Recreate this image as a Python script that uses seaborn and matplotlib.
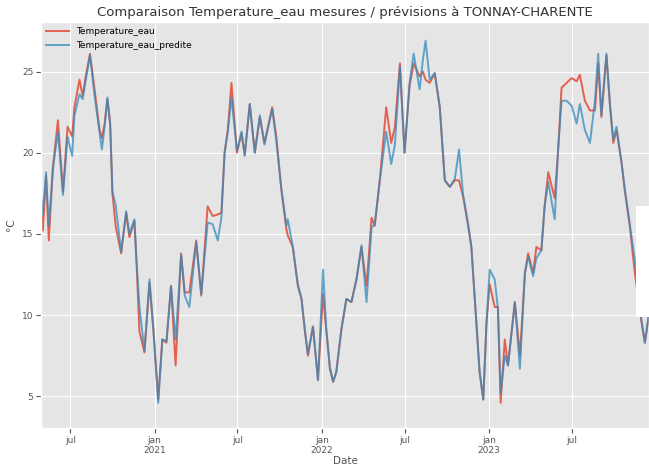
import matplotlib
matplotlib.use("Agg")

import pandas as pd
import seaborn as sns
import matplotlib.pyplot as plt
from matplotlib.patches import Rectangle

# Data (vertices of both curves)
dates = [
    "2020-04-28", "2020-05-02", "2020-05-09", "2020-05-15", "2020-05-24", "2020-06-04",
    "2020-06-15", "2020-06-25", "2020-07-05", "2020-07-10", "2020-07-21", "2020-07-28",
    "2020-08-03", "2020-08-13", "2020-08-23", "2020-09-03", "2020-09-08", "2020-09-14",
    "2020-09-20", "2020-09-26", "2020-10-01", "2020-10-08", "2020-10-20", "2020-10-31",
    "2020-11-07", "2020-11-18", "2020-11-23", "2020-11-29", "2020-12-10", "2020-12-21",
    "2020-12-30", "2021-01-09", "2021-01-18", "2021-01-27", "2021-02-06", "2021-02-16",
    "2021-02-28", "2021-03-08", "2021-03-18", "2021-04-02", "2021-04-13", "2021-04-27",
    "2021-05-08", "2021-05-19", "2021-05-27", "2021-06-03", "2021-06-10", "2021-06-18",
    "2021-06-30", "2021-07-10", "2021-07-17", "2021-07-28", "2021-08-08", "2021-08-19",
    "2021-08-29", "2021-09-15", "2021-09-24", "2021-10-05", "2021-10-16", "2021-10-19",
    "2021-10-30", "2021-11-10", "2021-11-18", "2021-11-25", "2021-12-02", "2021-12-13",
    "2021-12-24", "2022-01-04", "2022-01-11", "2022-01-19", "2022-01-26", "2022-02-02",
    "2022-02-13", "2022-02-24", "2022-03-07", "2022-03-18", "2022-03-29", "2022-04-09",
    "2022-04-20", "2022-04-27", "2022-05-08", "2022-05-22", "2022-06-02", "2022-06-10",
    "2022-06-21", "2022-07-01", "2022-07-12", "2022-07-21", "2022-08-03", "2022-08-10",
    "2022-08-16", "2022-08-25", "2022-09-05", "2022-09-16", "2022-09-27", "2022-10-08",
    "2022-10-19", "2022-10-28", "2022-11-06", "2022-11-17", "2022-11-24", "2022-12-05",
    "2022-12-12", "2022-12-20", "2022-12-27", "2023-01-03", "2023-01-14", "2023-01-21",
    "2023-01-27", "2023-02-05", "2023-02-12", "2023-02-27", "2023-03-10", "2023-03-21",
    "2023-03-28", "2023-04-08", "2023-04-15", "2023-04-26", "2023-05-03", "2023-05-11",
    "2023-05-25", "2023-06-02", "2023-06-09", "2023-06-20", "2023-07-01", "2023-07-12",
    "2023-07-19", "2023-07-30", "2023-08-10", "2023-08-21", "2023-08-28", "2023-09-04",
    "2023-09-15", "2023-09-23", "2023-09-30", "2023-10-07", "2023-10-18", "2023-10-25",
    "2023-11-05", "2023-11-16", "2023-12-01", "2023-12-08", "2023-12-17",
]

temp_mesuree = [
    16.5, 15.2, 18.6, 14.6, 19.1, 22.0,
    17.6, 21.6, 21.0, 22.8, 24.5, 23.5,
    24.6, 26.1, 23.9, 21.4, 20.9, 21.8,
    23.3, 21.8, 17.5, 15.5, 13.8, 16.3,
    14.8, 15.8, 13.0, 9.0, 7.7, 12.0,
    8.9, 4.8, 8.5, 8.3, 11.8, 6.9,
    13.8, 11.4, 11.4, 14.6, 11.2, 16.7,
    16.1, 16.2, 16.3, 20.0, 21.4, 24.3,
    20.0, 21.2, 19.9, 23.0, 20.0, 22.2,
    20.6, 22.8, 21.0, 17.7, 15.3, 14.9,
    14.2, 11.8, 11.0, 9.1, 7.5, 9.3,
    6.0, 11.3, 9.1, 6.7, 5.9, 6.5,
    9.1, 11.0, 10.8, 12.2, 14.2, 11.8,
    16.0, 15.5, 18.3, 22.8, 20.6, 21.6,
    25.5, 20.0, 24.1, 25.5, 24.7, 25.0,
    24.5, 24.3, 24.9, 22.8, 18.3, 17.9,
    18.3, 18.3, 17.3, 15.5, 14.2, 9.5,
    6.5, 4.8, 9.5, 11.9, 10.5, 10.5,
    4.6, 8.5, 6.9, 10.8, 7.5, 12.6,
    13.8, 12.6, 14.2, 14.0, 16.7, 18.8,
    17.2, 20.4, 24.0, 24.3, 24.6, 24.4,
    24.8, 23.2, 22.6, 22.6, 25.5, 22.2,
    26.0, 22.8, 20.6, 21.4, 19.4, 17.7,
    15.5, 12.6, 9.5, 8.3, 10.0,
]

temp_predite = [
    17.3, 16.2, 18.8, 15.5, 19.0, 21.3,
    17.4, 21.0, 19.8, 22.3, 23.6, 23.3,
    24.3, 26.0, 23.5, 21.2, 20.2, 21.6,
    23.4, 21.8, 17.6, 16.8, 13.9, 16.4,
    15.0, 15.9, 13.2, 10.5, 7.8, 12.2,
    8.9, 4.6, 8.5, 8.4, 11.8, 8.5,
    13.7, 11.2, 10.5, 14.5, 11.3, 15.7,
    15.6, 14.6, 16.0, 20.0, 21.3, 23.4,
    20.1, 21.3, 19.8, 23.0, 20.0, 22.3,
    20.5, 22.7, 20.7, 17.8, 15.5, 15.9,
    14.2, 11.9, 11.0, 9.2, 7.6, 9.3,
    6.0, 12.8, 9.2, 6.8, 5.9, 6.5,
    9.1, 11.0, 10.8, 12.2, 14.3, 10.8,
    15.4, 15.6, 18.3, 21.3, 19.3, 20.5,
    25.3, 20.0, 24.3, 26.1, 23.9, 25.7,
    26.9, 24.5, 24.9, 22.8, 18.3, 17.9,
    18.4, 20.2, 17.4, 15.6, 14.2, 9.5,
    6.5, 4.8, 9.5, 12.8, 12.2, 10.4,
    5.2, 7.5, 6.9, 10.8, 6.7, 12.6,
    13.6, 12.4, 13.5, 14.0, 16.7, 18.2,
    15.9, 20.4, 23.2, 23.2, 22.9, 21.8,
    23.0, 21.4, 20.6, 23.2, 26.1, 22.3,
    26.1, 22.9, 20.8, 21.6, 19.4, 17.8,
    15.6, 13.4, 9.6, 8.3, 10.2,
]

tick_dates = ["2020-07-01", "2021-01-01", "2021-07-01", "2022-01-01",
              "2022-07-01", "2023-01-01", "2023-07-01"]
tick_labels = ["jul", "jan\n2021", "jul", "jan\n2022", "jul", "jan\n2023", "jul"]

df = pd.DataFrame({
    "Date": pd.to_datetime(dates),
    "Temperature_eau": temp_mesuree,
    "Temperature_eau_predite": temp_predite,
})

plt.style.use("ggplot")
fig = plt.figure(figsize=(6.49, 4.67), dpi=100)
ax = fig.add_axes([41 / 649, 1 - 428 / 467, 1 - 41 / 649, 406 / 467])

sns.lineplot(data=df, x="Date", y="Temperature_eau", ax=ax, color="#E24A33",
             linewidth=1.4, alpha=0.85, label="Temperature_eau")
sns.lineplot(data=df, x="Date", y="Temperature_eau_predite", ax=ax, color="#348ABD",
             linewidth=1.4, alpha=0.75, label="Temperature_eau_predite")

ax.set_xlim(df["Date"].min(), df["Date"].max())
ax.set_ylim(3.05, 28.05)
ax.set_yticks([5, 10, 15, 20, 25])
ax.set_xticks(pd.to_datetime(tick_dates))
ax.set_xticklabels(tick_labels)
ax.tick_params(labelsize=6.5, colors="#555555", pad=2)
ax.set_xlabel("Date", fontsize=7.5, color="#555555", labelpad=1)
ax.set_ylabel("°C", fontsize=7.5, color="#555555")
ax.set_title("Comparaison Temperature_eau mesures / prévisions à TONNAY-CHARENTE",
             fontsize=9.5, color="#333333", pad=4)
ax.legend(loc="upper left", fontsize=6.5, frameon=False, borderaxespad=0.2,
          handlelength=2.5)

# white box covering the right edge, as in the reference picture
fig.patches.append(Rectangle((636 / 649, 1 - 317 / 467), 13 / 649, 111 / 467,
                             transform=fig.transFigure, facecolor="white",
                             edgecolor="none", zorder=10))

plt.savefig("out.png", dpi=100)
